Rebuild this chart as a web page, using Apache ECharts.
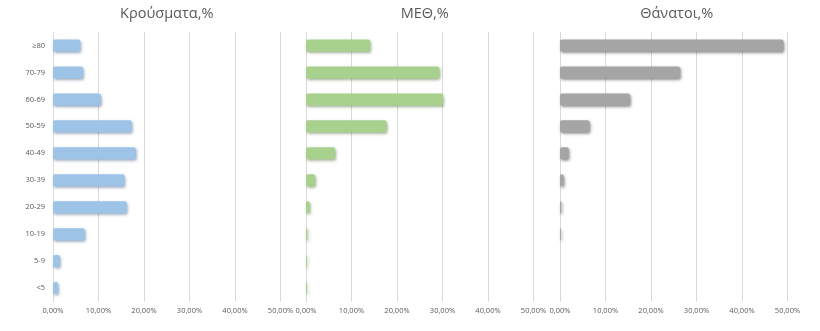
<!DOCTYPE html>
<html>
<head>
<meta charset="utf-8">
<script src="https://cdn.jsdelivr.net/npm/echarts@6/dist/echarts.min.js"></script>
<style>
  html, body { margin: 0; padding: 0; background: #ffffff; }
  #chart { width: 820px; height: 331px; }
</style>
</head>
<body>
<div id="chart"></div>
<script>
// Age groups, top to bottom
const ageGroups = ['≥80', '70-79', '60-69', '50-59', '40-49', '30-39', '20-29', '10-19', '5-9', '<5'];

// Share of each age group, in percent
const casesPct  = [6.0, 6.6, 10.5, 17.3, 18.2, 15.7, 16.2, 7.0, 1.5, 1.1];
const icuPct    = [14.1, 29.3, 30.1, 17.7, 6.4, 2.0, 0.8, 0.3, 0.2, 0.2];
const deathsPct = [49.1, 26.4, 15.4, 6.5, 1.9, 0.8, 0.3, 0.2, 0.0, 0.0];

const panelTitles = ['Κρούσματα,%', 'ΜΕΘ,%', 'Θάνατοι,%'];
const xTicks = [0, 10, 20, 30, 40, 50];

const fmtPct = v => v.toFixed(2).replace('.', ',') + '%';

const textColor = '#595959';
const fontFamily = '"Open Sans", "Noto Sans", sans-serif';

const panels = [
  { left: 53,  values: casesPct,  color: '#9dc3e6', shadow: 'rgba(60,90,130,0.5)' },
  { left: 306, values: icuPct,    color: '#a9d18e', shadow: 'rgba(70,100,50,0.5)' },
  { left: 560, values: deathsPct, color: '#a5a5a5', shadow: 'rgba(40,40,40,0.5)' }
];
const plotWidth = 227.5;

const chart = echarts.init(document.getElementById('chart'), null, { renderer: 'canvas' });

const option = {
  backgroundColor: '#ffffff',
  animation: false,
  title: panels.map((p, i) => ({
    text: panelTitles[i],
    left: p.left + plotWidth / 2 + (i === 0 ? -5 : 0) - (i === 2 ? 2 : 0),
    top: 1,
    textAlign: 'center',
    textStyle: { color: textColor, fontSize: 14.5, fontWeight: 'normal', fontFamily }
  })),
  grid: panels.map(p => ({
    left: p.left, top: 32, width: plotWidth, height: 269.5, containLabel: false
  })),
  xAxis: panels.map((p, i) => ({
    type: 'value',
    gridIndex: i,
    min: xTicks[0],
    max: xTicks[xTicks.length - 1],
    interval: xTicks[1] - xTicks[0],
    axisLine: { show: false },
    axisTick: { show: false },
    splitLine: { show: true, lineStyle: { color: '#d9d9d9', width: 1 } },
    axisLabel: {
      color: textColor, fontSize: 7.5, fontFamily, margin: 5,
      formatter: v => fmtPct(v)
    }
  })),
  yAxis: panels.map((p, i) => ({
    type: 'category',
    gridIndex: i,
    data: ageGroups,
    inverse: true,
    axisLine: { show: true, lineStyle: { color: '#d9d9d9' } },
    axisTick: { show: false },
    axisLabel: {
      show: i === 0, color: textColor, fontSize: 7.5, fontFamily, margin: 8
    }
  })),
  series: panels.map((p, i) => ({
    type: 'bar',
    xAxisIndex: i,
    yAxisIndex: i,
    data: p.values,
    barWidth: 12,
    itemStyle: {
      color: p.color,
      borderRadius: 2,
      shadowColor: p.shadow,
      shadowBlur: 3,
      shadowOffsetX: 1,
      shadowOffsetY: 1.5
    }
  }))
};

chart.setOption(option);
</script>
</body>
</html>
